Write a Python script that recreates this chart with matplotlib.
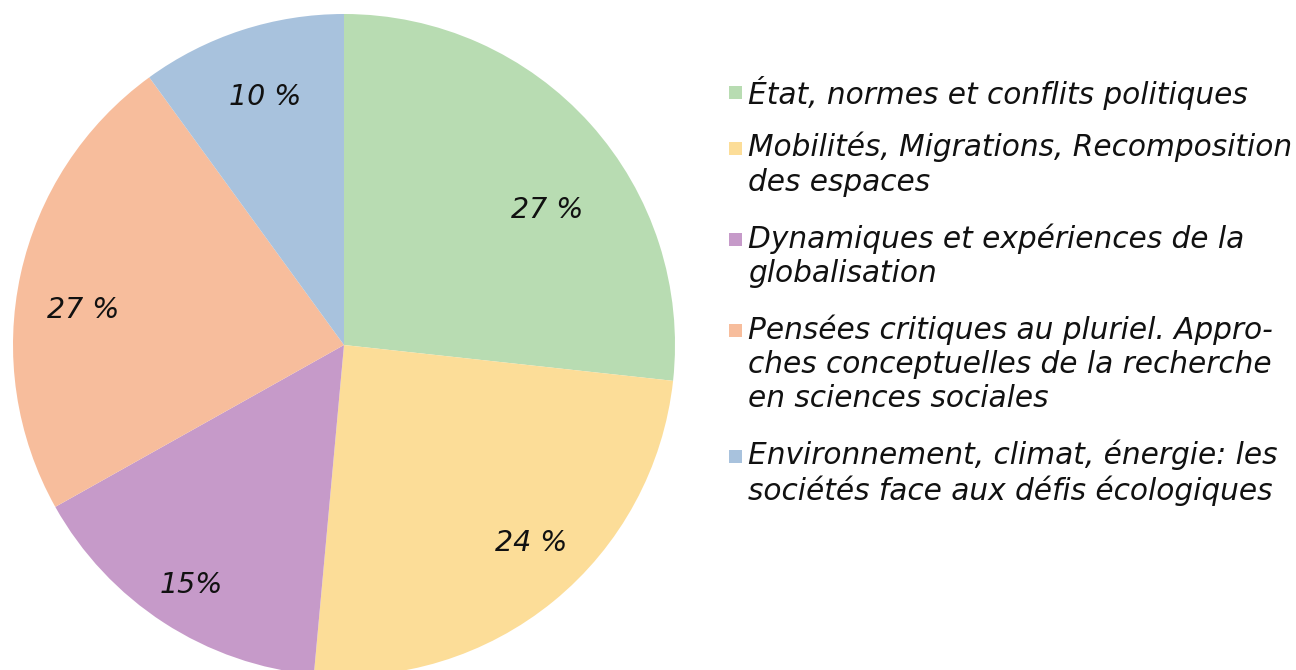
import matplotlib.pyplot as plt
from matplotlib.patches import Rectangle

# parts (labels printed on the chart are kept as given)
valeurs = [26.7, 24.7, 15.4, 23.1, 10.0]
etiquettes = ["27 %", "24 %", "15%", "27 %", "10 %"]
couleurs = ["#b8dcb2", "#fcdd98", "#c69ac9", "#f7bd9c", "#a8c2dd"]
themes = [
    "État, normes et conflits politiques",
    "Mobilités, Migrations, Recomposition\ndes espaces",
    "Dynamiques et expériences de la\nglobalisation",
    "Pensées critiques au pluriel. Appro-\nches conceptuelles de la recherche\nen sciences sociales",
    "Environnement, climat, énergie: les\nsociétés face aux défis écologiques",
]
# where each percentage sits inside its slice (fraction of the radius)
pos_etiquettes = [(0.613, 0.408), (0.565, -0.598), (-0.462, -0.725), (-0.789, 0.106), (-0.239, 0.749)]

W, H = 1296, 670
fig = plt.figure(figsize=(W / 100, H / 100), dpi=100)

cx, cy, r = 344, 345, 331
ax = fig.add_axes([(cx - r) / W, (H - cy - r) / H, 2 * r / W, 2 * r / H])
ax.pie(valeurs, colors=couleurs, startangle=90, counterclock=False, radius=1,
       wedgeprops=dict(linewidth=0))
ax.set_xlim(-1, 1)
ax.set_ylim(-1, 1)
ax.set_aspect("equal")
ax.axis("off")

for (x, y), txt in zip(pos_etiquettes, etiquettes):
    ax.text(x, y, txt, ha="center", va="center", fontsize=20.5, style="italic", color="#111111")

# legend drawn by hand so the square lines up with the first line of each entry
taille = 21.3
ligne_h = 35
ecart = 21
y = 92
for couleur, theme in zip(couleurs, themes):
    fig.patches.append(Rectangle((729 / W, 1 - (y + 7) / H), 13 / W, 13 / H,
                                 transform=fig.transFigure, facecolor=couleur, edgecolor="none"))
    fig.text(748 / W, 1 - (y - 16) / H, theme, ha="left", va="top", fontsize=taille,
             style="italic", color="#111111", linespacing=1.22)
    y += theme.count("\n") * ligne_h + ligne_h + ecart

fig.savefig("out.png", dpi=100)
